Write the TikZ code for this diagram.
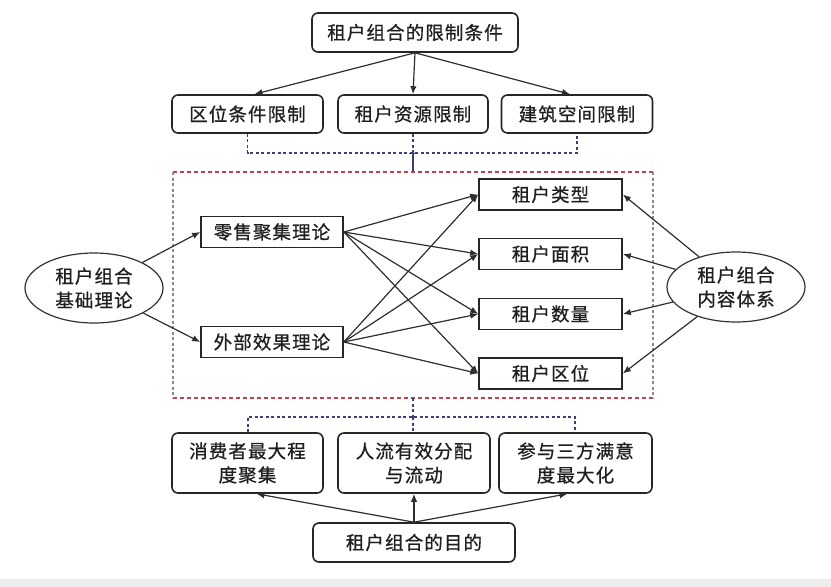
\documentclass[tikz,border=0pt]{standalone}
\usepackage{fontspec}
\newfontfamily\cjk[LetterSpace=6,FakeBold=0.7]{Noto Sans CJK SC}
\usetikzlibrary{arrows.meta,shapes.geometric}
\definecolor{lnc}{HTML}{2E2E2E}
\definecolor{dashblue}{HTML}{3C3F73}
\definecolor{dashred}{HTML}{C2404E}
\definecolor{dashgray}{HTML}{8A8A8A}
\tikzset{
  txt/.style={font=\cjk\fontsize{18.5}{24}\selectfont, text=black!88, align=center, inner sep=0pt},
  rbox/.style={txt, draw=black!85, line width=1.6pt, rounded corners=6pt, fill=white},
  sbox/.style={txt, draw=black!85, line width=1.6pt, fill=white},
  ell/.style={txt, ellipse, draw=black!80, line width=1.2pt, fill=white},
  arr/.style={-{Latex[length=8pt,width=6.5pt]}, draw=lnc, line width=1.2pt},
  bdash/.style={draw=dashblue, line width=1.1pt, dash pattern=on 3pt off 2.5pt},
}
\begin{document}
\begin{tikzpicture}[x=1pt,y=-1pt]
\useasboundingbox (0,0) rectangle (831,587);
\fill[black!7] (0,579) rectangle (831,587);

% top block
\node[rbox, minimum width=206, minimum height=39] (lim) at (415,32.5) {租户组合的限制条件};
\node[rbox, minimum width=151, minimum height=38] (l1) at (247.5,114) {区位条件限制};
\node[rbox, minimum width=150, minimum height=38] (l2) at (413,114) {租户资源限制};
\node[rbox, minimum width=151, minimum height=38] (l3) at (577,114) {建筑空间限制};
\draw[arr] (lim.south) -- ([xshift=7pt]l1.north);
\draw[arr] (lim.south) -- (l2.north);
\draw[arr] (lim.south) -- ([xshift=-7pt]l3.north);

\coordinate (d1) at (247.5,153);
\coordinate (d2) at (413,153);
\coordinate (d3) at (577,153);
\coordinate (rt) at (413,172);
\draw[bdash] (l1.south) -- (d1) -- (d3) -- (l3.south);
\draw[bdash] (l2.south) -- (d2);
\draw[dashblue, line width=1.1pt] (d2) -- (rt);
\draw[dashblue, line width=1pt] (409,153) -- (417,153);

% red dashed frame
\draw[dashred, line width=1.2pt, dash pattern=on 4pt off 3pt] (173,172) -- (653,172);
\draw[dashred, line width=1.2pt, dash pattern=on 4pt off 3pt] (173,398) -- (653,398);
\draw[dashgray, line width=1.2pt, dash pattern=on 3pt off 2.5pt] (173,172) -- (173,398);
\draw[dashgray, line width=1.2pt, dash pattern=on 3pt off 2.5pt] (653,172) -- (653,398);

% middle
\node[ell, minimum width=138, minimum height=70] (base) at (94,288) {租户组合\\基础理论};
\node[ell, minimum width=138, minimum height=70] (cont) at (736,287) {租户组合\\内容体系};
\node[sbox, minimum width=142, minimum height=31] (t1) at (272,232) {零售聚集理论};
\node[sbox, minimum width=142, minimum height=31] (t2) at (272,342) {外部效果理论};
\node[sbox, minimum width=143, minimum height=31] (c1) at (550.5,194.5) {租户类型};
\node[sbox, minimum width=143, minimum height=31] (c2) at (550.5,254) {租户面积};
\node[sbox, minimum width=143, minimum height=31] (c3) at (550.5,314) {租户数量};
\node[sbox, minimum width=143, minimum height=31] (c4) at (550.5,373.5) {租户区位};

\draw[arr] (base) -- (t1.west);
\draw[arr] (base) -- (t2.west);
\foreach \t in {t1,t2}{
  \foreach \c in {c1,c2,c3,c4}{
    \draw[arr] (\t.east) -- (\c.west);
  }
}
\foreach \c in {c1,c2,c3,c4}{
  \draw[arr] (cont) -- (\c.east);
}

% bottom block
\coordinate (e0) at (413,398);
\coordinate (e2) at (413,417);
\coordinate (e1) at (248,417);
\coordinate (e3) at (575,417);
\node[rbox, minimum width=151, minimum height=60] (g1) at (247.5,463) {消费者最大程\\度聚集};
\node[rbox, minimum width=152, minimum height=60] (g2) at (414,463) {人流有效分配\\与流动};
\node[rbox, minimum width=153, minimum height=60] (g3) at (575.5,463) {参与三方满意\\度最大化};
\node[rbox, minimum width=202, minimum height=39] (aim) at (414,542.5) {租户组合的目的};
\draw[bdash] (e0) -- (e2);
\draw[bdash] (g1.north -| e1) -- (e1) -- (e3) -- (g3.north -| e3);
\draw[bdash] (e2) -- (g2.north -| e2);
\draw[arr] (aim.north) -- ([xshift=9pt]g1.south);
\draw[arr] (aim.north) -- (g2.south);
\draw[arr] (aim.north) -- ([xshift=-8pt]g3.south);
\end{tikzpicture}
\end{document}
